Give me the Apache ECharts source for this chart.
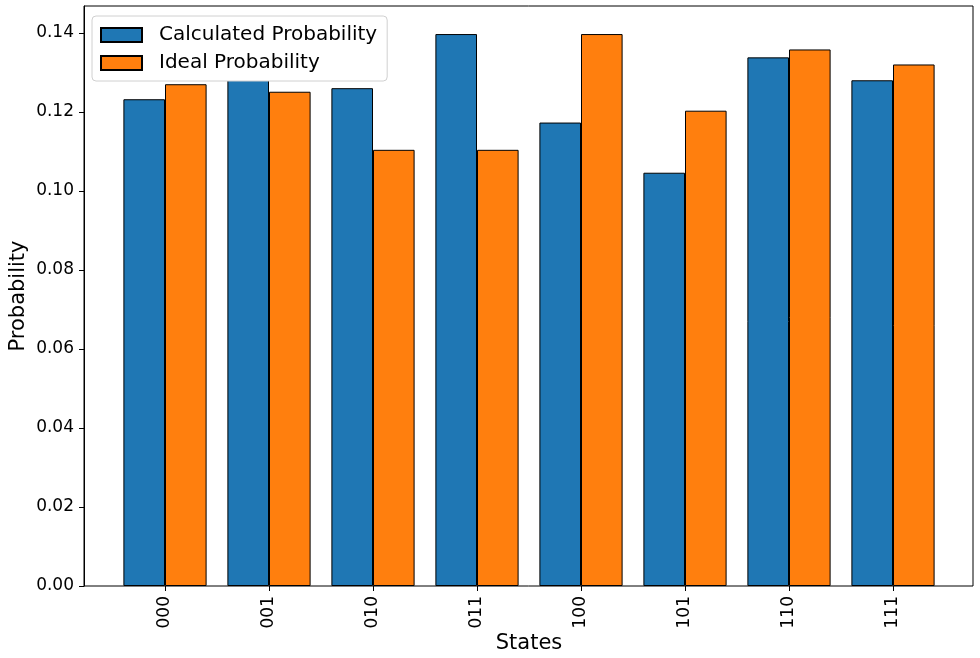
<!DOCTYPE html>
<html>
<head>
<meta charset="utf-8">
<script src="https://cdn.jsdelivr.net/npm/echarts@6/dist/echarts.min.js"></script>
<style>html,body{margin:0;padding:0;background:#fff;}#c{width:980px;height:658px;}</style>
</head>
<body>
<div id="c"></div>
<script>
const states = ['000','001','010','011','100','101','110','111'];
const calculated = [0.1232, 0.1285, 0.1260, 0.1397, 0.1173, 0.1046, 0.1338, 0.1280];
const ideal = [0.1270, 0.1251, 0.1104, 0.1104, 0.1397, 0.1203, 0.1358, 0.1320];
const yTicks = [0, 0.02, 0.04, 0.06, 0.08, 0.10, 0.12, 0.14];
const seriesNames = ['Calculated Probability', 'Ideal Probability'];

const FONT = 'DejaVu Sans';
const chart = echarts.init(document.getElementById('c'), null, {renderer: 'canvas'});
const yMax = 0.1468;
chart.setOption({
  animation: false,
  backgroundColor: '#fff',
  textStyle: {fontFamily: FONT, color: '#000'},
  grid: [
    {left: 84, right: 7, top: 6, bottom: 72, outerBoundsMode: 'none', containLabel: false,
      show: true, borderColor: '#000', borderWidth: 1, backgroundColor: 'transparent'},
    {left: 113, right: 35, top: 6, bottom: 72, outerBoundsMode: 'none', containLabel: false}
  ],
  legend: {
    left: 92, top: 16, orient: 'vertical',
    padding: [9, 10, 8, 8],
    itemWidth: 41, itemHeight: 14, itemGap: 8,
    backgroundColor: '#ffffff', borderColor: '#d0d0d0', borderWidth: 1, borderRadius: 4,
    icon: 'rect',
    textStyle: {fontFamily: FONT, fontSize: 20, color: '#000', lineHeight: 14, padding: [0, 0, 0, 12]},
    data: seriesNames
  },
  xAxis: [
    {gridIndex: 0, type: 'value', show: false, min: 0, max: 1},
    {gridIndex: 1, type: 'category', data: states,
      axisLine: {show: false},
      axisTick: {show: true, alignWithLabel: true, length: 5, lineStyle: {color: '#000'}},
      axisLabel: {rotate: 90, fontFamily: FONT, fontSize: 17, color: '#000', margin: 10},
      name: 'States', nameLocation: 'middle', nameGap: 47, nameMoveOverlap: false,
      nameTextStyle: {fontFamily: FONT, fontSize: 21, color: '#000'}
    }
  ],
  yAxis: [
    {gridIndex: 0, type: 'value', min: 0, max: yMax, interval: 0.02,
      axisLine: {show: true, lineStyle: {color: '#000'}},
      axisTick: {show: true, length: 5, lineStyle: {color: '#000'}},
      splitLine: {show: false},
      axisLabel: {fontFamily: FONT, fontSize: 17, color: '#000', margin: 10,
        showMaxLabel: false,
        formatter: function (v) {
          for (const t of yTicks) { if (Math.abs(v - t) < 1e-9) return t.toFixed(2); }
          return '';
        }},
      name: 'Probability', nameLocation: 'middle', nameGap: 55, nameRotate: 90, nameMoveOverlap: false,
      nameTextStyle: {fontFamily: FONT, fontSize: 21, color: '#000'}
    },
    {gridIndex: 1, type: 'value', min: 0, max: yMax, show: false, splitLine: {show: false}}
  ],
  series: [
    {name: seriesNames[0], type: 'bar', xAxisIndex: 1, yAxisIndex: 1, data: calculated,
      barWidth: '40%', barGap: '0%',
      itemStyle: {color: '#1f77b4', borderColor: '#000', borderWidth: 1}},
    {name: seriesNames[1], type: 'bar', xAxisIndex: 1, yAxisIndex: 1, data: ideal,
      barWidth: '40%', barGap: '0%',
      itemStyle: {color: '#ff7f0e', borderColor: '#000', borderWidth: 1}}
  ]
});
</script>
</body>
</html>
